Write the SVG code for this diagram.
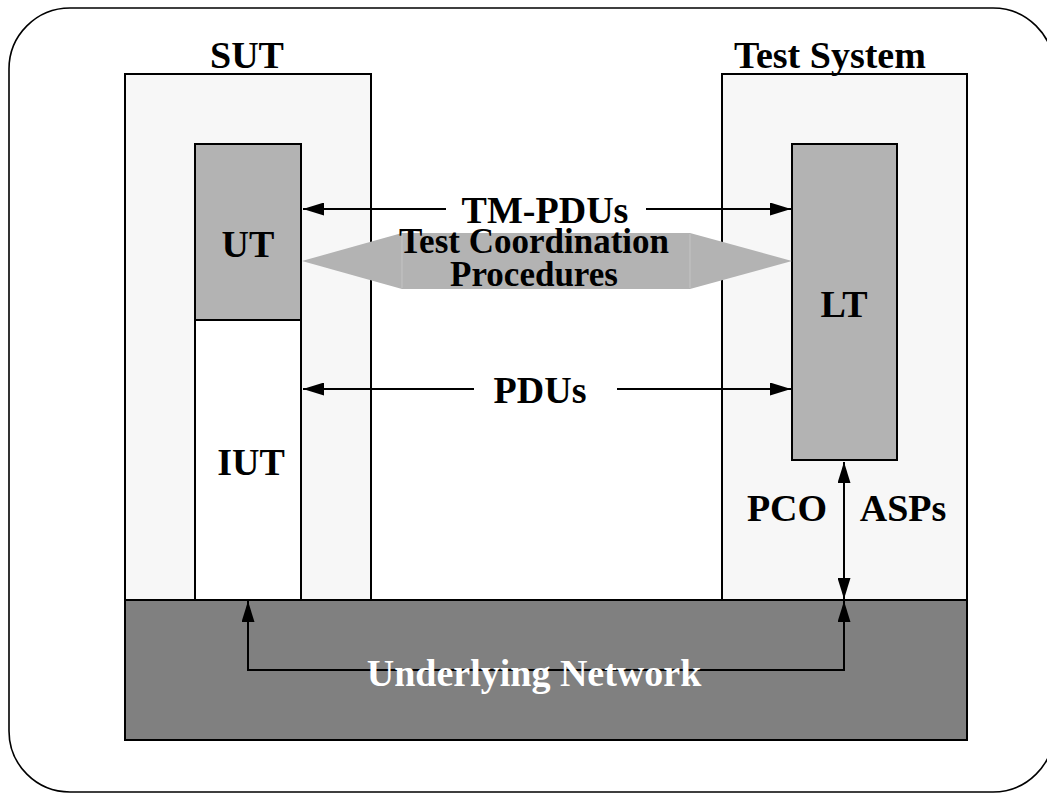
<svg xmlns="http://www.w3.org/2000/svg" width="1047" height="793" viewBox="0 0 1047 793">
<style>
.lbl{font-family:"Liberation Serif","Times New Roman",serif;font-weight:bold;font-size:38px;text-anchor:middle;fill:#000}
.box{stroke:#000;stroke-width:2}
.ln{stroke:#000;stroke-width:2;fill:none}
</style>
<defs>
<marker id="ah" markerUnits="userSpaceOnUse" markerWidth="21" markerHeight="13" viewBox="0 0 21 13" refX="21" refY="6.5" orient="auto-start-reverse">
<path d="M0,0 L21,6.5 L0,13 z" fill="#000"/>
</marker>
</defs>
<rect id="frame" x="9" y="8" width="1045" height="784" rx="61" ry="61" fill="#fff" stroke="#000" stroke-width="1.6"/>
<g id="sut">
<rect class="box" x="125" y="74" width="246" height="526" fill="#f7f7f7"/>
<text class="lbl" x="247" y="68">SUT</text>
</g>
<g id="testsystem">
<rect class="box" x="722" y="74" width="245" height="526" fill="#f7f7f7"/>
<text class="lbl" x="830" y="68">Test System</text>
</g>
<g id="ut">
<rect class="box" x="195" y="144" width="106" height="176" fill="#b3b3b3"/>
<text class="lbl" x="248" y="257">UT</text>
</g>
<g id="iut">
<rect class="box" x="195" y="320" width="106" height="280" fill="#fff"/>
<text class="lbl" x="251" y="475">IUT</text>
</g>
<g id="lt">
<rect class="box" x="792" y="144" width="105" height="316" fill="#b3b3b3"/>
<text class="lbl" x="844" y="317">LT</text>
</g>
<g id="network">
<rect class="box" x="125" y="600" width="842" height="140" fill="#808080"/>
</g>
<g id="coordination">
<polygon points="302,261 402,233 690,233 792,261 690,289 402,289" fill="#b3b3b3"/>
<line x1="402" y1="234" x2="402" y2="288" stroke="#c4c4c4" stroke-width="1"/>
<line x1="690" y1="234" x2="690" y2="288" stroke="#c4c4c4" stroke-width="1"/>
<text class="lbl" x="534" y="253" font-size="35" style="font-size:35px">Test Coordination</text>
<text class="lbl" x="534" y="286" style="font-size:35px">Procedures</text>
</g>
<g id="connectors">
<line class="ln" x1="446" y1="209" x2="303" y2="209" marker-end="url(#ah)"/>
<line class="ln" x1="646" y1="209" x2="791" y2="209" marker-end="url(#ah)"/>
<text class="lbl" x="545" y="223">TM-PDUs</text>
<line class="ln" x1="474" y1="389" x2="303" y2="389" marker-end="url(#ah)"/>
<line class="ln" x1="617" y1="389" x2="791" y2="389" marker-end="url(#ah)"/>
<text class="lbl" x="540" y="403">PDUs</text>
<line class="ln" x1="844" y1="462" x2="844" y2="599" marker-start="url(#ah)" marker-end="url(#ah)"/>
<text class="lbl" x="787" y="521">PCO</text>
<text class="lbl" x="903" y="521">ASPs</text>
<polyline class="ln" points="248,601 248,670 844,670 844,601" marker-start="url(#ah)" marker-end="url(#ah)"/>
<text class="lbl" x="534" y="686" style="fill:#fff">Underlying Network</text>
</g>
</svg>
